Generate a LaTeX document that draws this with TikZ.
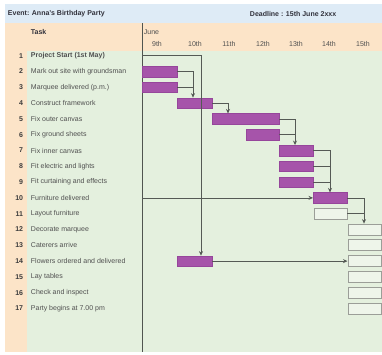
\documentclass[tikz,border=0pt]{standalone}
\usepackage{fontspec}
\setmainfont{Liberation Sans}
\usetikzlibrary{arrows.meta}
\begin{document}
\begin{tikzpicture}[x=1pt,y=1pt,yscale=-1,
  font=\fontsize{7}{8}\selectfont,
  bar/.style={draw={rgb, 255:red, 150; green, 70; blue, 155 },fill={rgb, 255:red, 166; green, 84; blue, 170 },line width=0.4pt,minimum height=10.5pt,inner sep=0pt,anchor=west},
  slot/.style={draw={rgb, 255:red, 155; green, 158; blue, 152 },fill={rgb, 255:red, 238; green, 245; blue, 234 },line width=0.8pt,minimum height=11pt,minimum width=33pt,inner sep=0pt,anchor=west},
  task/.style={anchor=west,inner sep=0.75pt,color={rgb, 255:red, 80; green, 80; blue, 80 }},
  num/.style={anchor=east,inner sep=0.75pt,font=\fontsize{7}{8}\selectfont\bfseries,color={rgb, 255:red, 60; green, 60; blue, 60 }},
  head/.style={inner sep=0.75pt,font=\fontsize{7}{8}\selectfont\bfseries,color={rgb, 255:red, 50; green, 50; blue, 60 }},
  link/.style={draw={rgb, 255:red, 85; green, 90; blue, 85 },line width=0.7pt,-{Stealth[length=4.5pt,width=4pt]}},
  joint/.style={draw={rgb, 255:red, 85; green, 90; blue, 85 },line width=0.7pt}]
\useasboundingbox (0,0) rectangle (382,354);
%Shape: Rectangle [header band]
\fill [fill={rgb, 255:red, 222; green, 235; blue, 246 }] (5,4) rectangle (382,23);
%Shape: Rectangle [title band]
\fill [fill={rgb, 255:red, 252; green, 228; blue, 200 }] (5,23) rectangle (382,50.5);
\fill [fill={rgb, 255:red, 252; green, 228; blue, 200 }] (5,50.5) rectangle (27,352);
%Shape: Rectangle [chart area]
\fill [fill={rgb, 255:red, 228; green, 240; blue, 222 }] (27,50.5) rectangle (382,352);
%Straight Lines [divider]
\draw [color={rgb, 255:red, 80; green, 85; blue, 80 },line width=0.8pt] (142,23) -- (142,352);
% Text Node
\node [head,anchor=west] (event) at (7,14) {Event: Anna's Birthday Party};
\node [head,anchor=west] (deadline) at (249,14) {Deadline : 15th June 2xxx};
\node [head,anchor=west] (tsk) at (30,32) {Task};
\node [task,anchor=west] (june) at (143,32) {June};
\node [task,anchor=center] (d9) at (157,44) {9th};
\node [task,anchor=center] (d10) at (195,44) {10th};
\node [task,anchor=center] (d11) at (229,44) {11th};
\node [task,anchor=center] (d12) at (263,44) {12th};
\node [task,anchor=center] (d13) at (296,44) {13th};
\node [task,anchor=center] (d14) at (329,44) {14th};
\node [task,anchor=center] (d15) at (363,44) {15th};
% Task list
\node [num] (n1) at (24,55.7) {1};
\node [task,font=\fontsize{7}{8}\selectfont\bfseries] (t1) at (30,55.7) {Project Start (1st May)};
\node [num] (n2) at (24,71.5) {2};
\node [task] (t2) at (30,71.5) {Mark out site with groundsman};
\node [num] (n3) at (24,87.3) {3};
\node [task] (t3) at (30,87.3) {Marquee delivered (p.m.)};
\node [num] (n4) at (24,103.1) {4};
\node [task] (t4) at (30,103.1) {Construct framework};
\node [num] (n5) at (24,118.9) {5};
\node [task] (t5) at (30,118.9) {Fix outer canvas};
\node [num] (n6) at (24,134.7) {6};
\node [task] (t6) at (30,134.7) {Fix ground sheets};
\node [num] (n7) at (24,150.5) {7};
\node [task] (t7) at (30,150.5) {Fix inner canvas};
\node [num] (n8) at (24,166.3) {8};
\node [task] (t8) at (30,166.3) {Fit electric and lights};
\node [num] (n9) at (24,182.1) {9};
\node [task] (t9) at (30,182.1) {Fit curtaining and effects};
\node [num] (n10) at (24,197.9) {10};
\node [task] (t10) at (30,197.9) {Furniture delivered};
\node [num] (n11) at (24,213.7) {11};
\node [task] (t11) at (30,213.7) {Layout furniture};
\node [num] (n12) at (24,229.5) {12};
\node [task] (t12) at (30,229.5) {Decorate marquee};
\node [num] (n13) at (24,245.3) {13};
\node [task] (t13) at (30,245.3) {Caterers arrive};
\node [num] (n14) at (24,261.1) {14};
\node [task] (t14) at (30,261.1) {Flowers ordered and delivered};
\node [num] (n15) at (24,276.9) {15};
\node [task] (t15) at (30,276.9) {Lay tables};
\node [num] (n16) at (24,292.7) {16};
\node [task] (t16) at (30,292.7) {Check and inspect};
\node [num] (n17) at (24,308.5) {17};
\node [task] (t17) at (30,308.5) {Party begins at 7.00 pm};
% Bars
\node [bar,minimum width=35pt] (b2) at (142,71.5) {};
\node [bar,minimum width=35pt] (b3) at (142,87.3) {};
\node [bar,minimum width=35pt] (b4) at (177,103.1) {};
\node [bar,minimum width=67pt] (b5) at (212,118.9) {};
\node [bar,minimum width=33pt] (b6) at (246,134.7) {};
\node [bar,minimum width=34pt] (b7) at (279,150.5) {};
\node [bar,minimum width=34pt] (b8) at (279,166.3) {};
\node [bar,minimum width=34pt] (b9) at (279,182.1) {};
\node [bar,minimum width=34pt] (b10) at (313,197.9) {};
\node [slot] (b11) at (313.5,213.7) {};
\node [slot] (b12) at (347.5,229.5) {};
\node [slot] (b13) at (347.5,245.3) {};
\node [bar,minimum width=35pt] (f14) at (177,261.1) {};
\node [slot] (b14) at (347.5,261.1) {};
\node [slot] (b15) at (347.5,276.9) {};
\node [slot] (b16) at (347.5,292.7) {};
\node [slot] (b17) at (347.5,308.5) {};
% Junctions
\coordinate (start) at (142,55.7);
\coordinate (s10) at (142,197.9);
\coordinate (j0) at (201,0);
\coordinate (j1) at (193,0);
\coordinate (j2) at (228,0);
\coordinate (j3) at (295,0);
\coordinate (j4) at (330,0);
\coordinate (j5) at (364,0);
% Links
\draw [link] (start) -| (j0 |- f14.north);
\draw [link] (b2.east) -| (j1 |- b4.north);
\draw [joint] (b3.east) -- (j1 |- b3.east);
\draw [link] (b4.east) -| (j2 |- b5.north);
\draw [link] (b5.east) -| (j3 |- b7.north);
\draw [joint] (b6.east) -- (j3 |- b6.east);
\draw [link] (b7.east) -| (j4 |- b10.north);
\draw [joint] (b8.east) -- (j4 |- b8.east);
\draw [joint] (b9.east) -- (j4 |- b9.east);
\draw [link] (s10) -- (b10.west);
\draw [link] (b10.east) -| (j5 |- b12.north);
\draw [joint] (b11.east) -- (j5 |- b11.east);
\draw [link] (f14.east) -- (b14.west);
\end{tikzpicture}
\end{document}
